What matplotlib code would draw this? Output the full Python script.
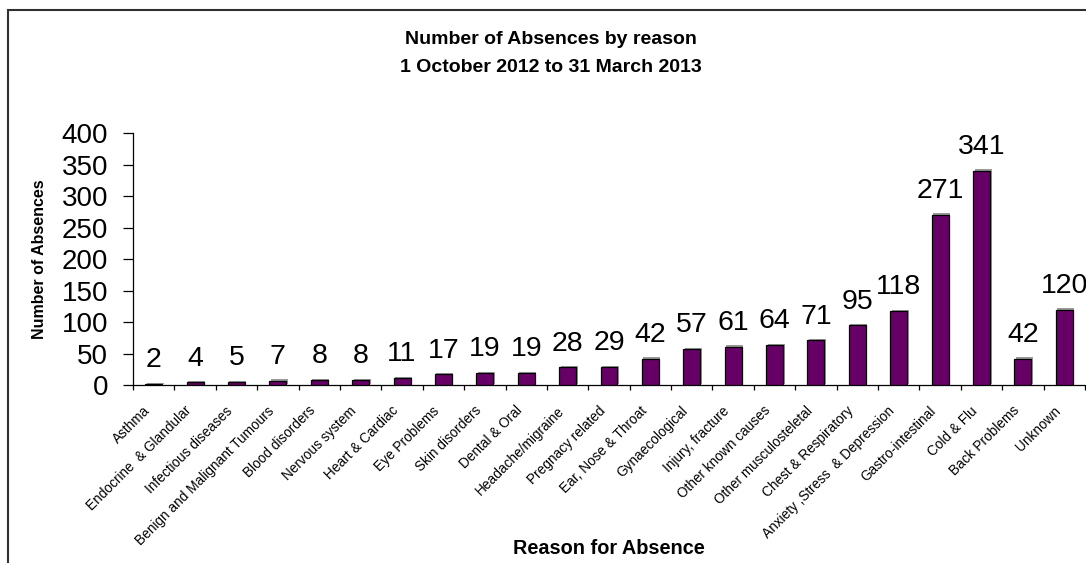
import matplotlib
matplotlib.use("Agg")
import matplotlib.pyplot as plt
import matplotlib.transforms as mtransforms
from matplotlib.patches import Rectangle
from matplotlib.ticker import FixedLocator, NullFormatter

reasons = [
    "Asthma", "Endocrine  & Glandular", "Infectious diseases",
    "Benign and Malignant Tumours", "Blood disorders", "Nervous system",
    "Heart & Cardiac", "Eye Problems", "Skin disorders", "Dental & Oral",
    "Headache/migraine", "Pregnacy related", "Ear, Nose & Throat",
    "Gynaecological", "Injury, fracture", "Other known causes",
    "Other musculosteletal", "Chest & Respiratory",
    "Anxiety ,Stress  & Depression", "Gastro-intestinal", "Cold & Flu",
    "Back Problems", "Unknown",
]
absences = [2, 4, 5, 7, 8, 8, 11, 17, 19, 19, 28, 29, 42, 57, 61, 64, 71,
            95, 118, 271, 341, 42, 120]
y_ticks = [0, 50, 100, 150, 200, 250, 300, 350, 400]

title_lines = ["Number of Absences by reason", "1 October 2012 to 31 March 2013"]

plt.rcParams["font.family"] = ["Liberation Sans", "DejaVu Sans"]

W, H = 1086, 563
fig = plt.figure(figsize=(W / 100, H / 100), dpi=100)

# outer chart frame (runs off the right and bottom edges)
fig.patches.append(Rectangle((8 / W, -0.05), 1.2, 1 - 10 / H + 0.05,
                             transform=fig.transFigure, fill=False,
                             edgecolor="#303030", linewidth=1.5))

ax = fig.add_axes([133 / W, 178 / H, 952 / W, 251.5 / H])
x = list(range(len(absences)))

# soft shadow behind each bar
shadow = mtransforms.offset_copy(ax.transData, fig=fig, x=1.5, y=1.2, units="dots")
ax.bar(x, absences, width=0.41, color="#9a9a9a", linewidth=0,
       transform=shadow, zorder=2)
bars = ax.bar(x, absences, width=0.41, color="#660066", edgecolor="black",
              linewidth=0.9, zorder=3)

for xi, v in zip(x, absences):
    ax.annotate(str(v), (xi, v), xytext=(0, 12), textcoords="offset points",
                ha="center", va="baseline", fontsize=20.5, clip_on=False)

ax.set_xlim(-0.5, len(absences) - 0.5)
ax.set_ylim(0, 400)
ax.set_yticks(y_ticks)
ax.tick_params(axis="y", labelsize=20, length=7.5, width=0.9, pad=10.5,
               direction="out", colors="black")

ax.set_xticks(x)
ax.set_xticklabels(reasons, rotation=45, ha="right", va="center",
                   rotation_mode="anchor", fontsize=9.8)
ax.tick_params(axis="x", which="major", length=0, pad=17)
ax.xaxis.set_minor_locator(FixedLocator([i - 0.5 for i in range(len(absences) + 1)]))
ax.xaxis.set_minor_formatter(NullFormatter())
ax.tick_params(axis="x", which="minor", length=3.5, width=0.9, direction="out")

# nudge the slanted category labels slightly left
shift = mtransforms.ScaledTranslation(-6 / 100, 0, fig.dpi_scale_trans)
for lbl in ax.get_xticklabels():
    lbl.set_transform(lbl.get_transform() + shift)

for side in ("top", "right"):
    ax.spines[side].set_visible(False)
for side in ("left", "bottom"):
    ax.spines[side].set_linewidth(0.9)
    ax.spines[side].set_color("black")

fig.text(551 / W, 1 - 40 / H, title_lines[0], ha="center", va="center",
         fontsize=14, fontweight="bold")
fig.text(551 / W, 1 - 67 / H, title_lines[1], ha="center", va="center",
         fontsize=14, fontweight="bold")
fig.text(40 / W, 1 - 259 / H, "Number of Absences", rotation=90,
         ha="center", va="center", fontsize=11.5, fontweight="bold")
fig.text(609 / W, 1 - 549 / H, "Reason for Absence", ha="center",
         va="center", fontsize=14.3, fontweight="bold")

fig.savefig("out.png", dpi=100)
